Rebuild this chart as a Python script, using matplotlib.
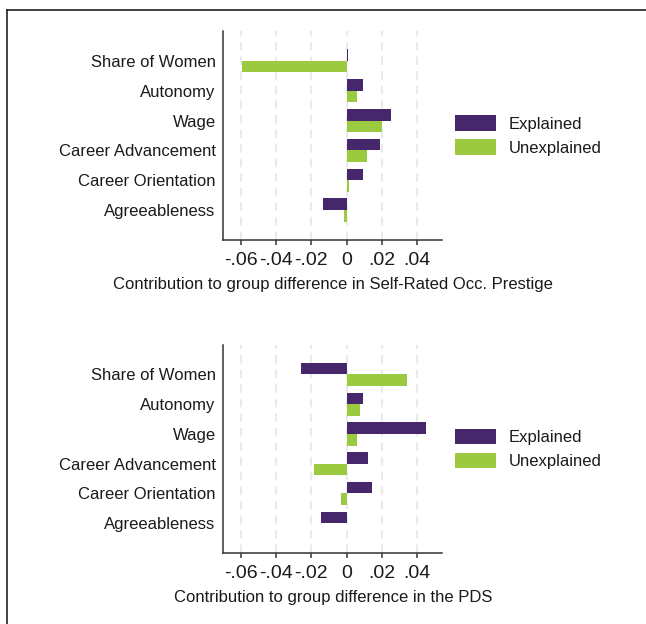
import matplotlib

matplotlib.use("Agg")

import matplotlib.pyplot as plt  # noqa: E402
from matplotlib.lines import Line2D  # noqa: E402
from matplotlib.ticker import FuncFormatter  # noqa: E402

plt.rcParams["font.family"] = ["Liberation Sans", "DejaVu Sans"]

factors = [
    "Share of Women",
    "Autonomy",
    "Wage",
    "Career Advancement",
    "Career Orientation",
    "Agreeableness",
]

# Self-rated occupational prestige decomposition
prestige_explained = [0.001, 0.0092, 0.0251, 0.0189, 0.0092, -0.0134]
prestige_unexplained = [-0.0593, 0.0058, 0.0200, 0.0115, 0.0013, -0.0015]

# PDS decomposition
pds_explained = [-0.0257, 0.0092, 0.0449, 0.0121, 0.0144, -0.0145]
pds_unexplained = [0.0342, 0.0075, 0.0057, -0.0185, -0.0032, 0.0004]

xticks = [-0.06, -0.04, -0.02, 0, 0.02, 0.04]

PURPLE = "#47276c"
GREEN = "#9bc93f"
TEXT = "#1a1a1a"
BAR_H = 0.39


def _fmt(v, _pos):
    # Stata style: no leading zero, plain hyphen for negatives
    if abs(v) < 1e-9:
        return "0"
    s = f"{abs(v):.2f}".lstrip("0")
    return ("-" if v < 0 else "") + s


def draw_panel(ax, explained, unexplained, xlabel):
    pos = list(range(1, len(factors) + 1))
    for t in xticks:
        ax.axvline(t, color="#eaeaea", lw=1.5, dashes=(4, 3), zorder=0)
    ax.barh([p - BAR_H / 2 for p in pos], explained, height=BAR_H,
            color=PURPLE, label="Explained", zorder=2)
    ax.barh([p + BAR_H / 2 for p in pos], unexplained, height=BAR_H,
            color=GREEN, label="Unexplained", zorder=2)
    ax.set_ylim(len(factors) + 1, 0)
    ax.set_xlim(-0.0699, 0.0542)
    ax.set_yticks(pos)
    ax.set_yticklabels(factors, fontsize=12, color=TEXT)
    ax.set_xticks(xticks)
    ax.xaxis.set_major_formatter(FuncFormatter(_fmt))
    ax.tick_params(axis="y", length=0, pad=5.5)
    ax.tick_params(axis="x", length=3.6, width=1.1, color="#333333",
                   labelsize=14, labelcolor=TEXT, pad=5.2)
    ax.set_xlabel(xlabel, fontsize=12, color=TEXT, labelpad=5.8)
    for side in ("top", "right"):
        ax.spines[side].set_visible(False)
    for side in ("left", "bottom"):
        ax.spines[side].set_linewidth(1.1)
        ax.spines[side].set_color("#333333")
    ax.legend(loc="center left", bbox_to_anchor=(1.058, 0.5), frameon=False,
              fontsize=12, borderpad=0, borderaxespad=0,
              handlelength=2.45, handleheight=1.08, handletextpad=0.78,
              labelspacing=0.45, labelcolor=TEXT)


fig = plt.figure(figsize=(6.46, 6.24), dpi=100)
ax_top = fig.add_axes([0.3457, 0.6154, 0.339, 0.335])
ax_bot = fig.add_axes([0.3457, 0.1138, 0.339, 0.3338])

draw_panel(ax_top, prestige_explained, prestige_unexplained,
           "Contribution to group difference in Self-Rated Occ. Prestige")
draw_panel(ax_bot, pds_explained, pds_unexplained,
           "Contribution to group difference in the PDS")

# outer frame along the top and left edges
fig.add_artist(Line2D([7 / 646, 1], [1 - 10 / 624, 1 - 10 / 624],
                      transform=fig.transFigure, color="#222222", lw=1.2))
fig.add_artist(Line2D([7 / 646, 7 / 646], [0, 1 - 10 / 624],
                      transform=fig.transFigure, color="#222222", lw=1.2))

fig.savefig("out.png", dpi=100)
plt.close(fig)
